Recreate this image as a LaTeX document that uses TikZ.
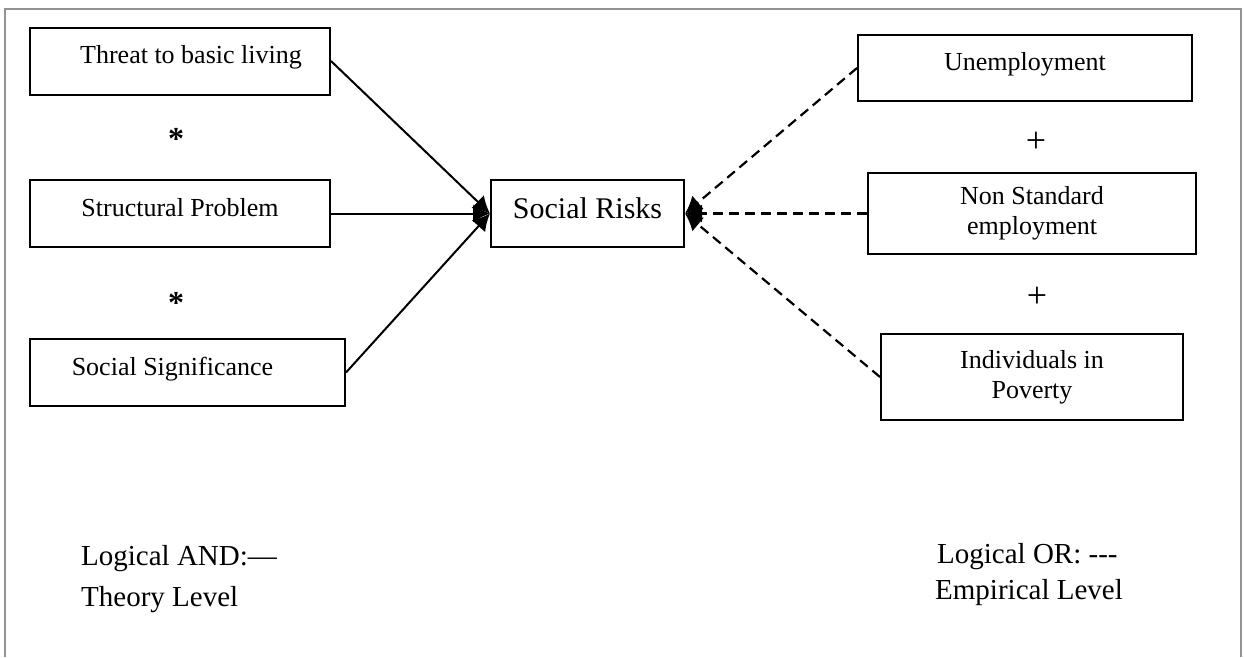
\documentclass[tikz,border=0pt]{standalone}
\usepackage{fontspec}
\setmainfont{Liberation Serif}
\usetikzlibrary{arrows.meta}
\tikzset{
  box/.style={draw, line width=2pt, align=center, inner sep=0pt, font=\fontsize{26}{30}\selectfont},
  onebox/.style={box, text height=18pt, text depth=13pt},
  tip/.style={-{Latex[length=17pt,width=18pt]}},
  andline/.style={line width=2pt, tip},
  orline/.style={line width=2.2pt, dash pattern=on 10pt off 6pt, tip},
  sym/.style={inner sep=0pt},
  legend/.style={anchor=base west, inner sep=0pt, font=\fontsize{29}{34}\selectfont},
}
\begin{document}
\begin{tikzpicture}[x=1pt,y=-1pt]
\useasboundingbox (0,0) rectangle (1245,657);
\draw[line width=2pt, color=gray!85] (5,657) -- (5,9) -- (1241,9) -- (1241,657);
% left boxes
\node[onebox, minimum width=300, minimum height=67] (threat) at (180,61) {\hspace*{22pt}Threat to basic living};
\node[onebox, minimum width=300, minimum height=67] (struct) at (180,213.5) {Structural Problem};
\node[onebox, minimum width=315, minimum height=67] (signif) at (187.5,372.5) {\hspace*{-30pt}Social Significance};
\node[sym, font=\fontsize{32}{32}\selectfont\bfseries] (star1) at (176,139) {*};
\node[sym, font=\fontsize{32}{32}\selectfont\bfseries] (star2) at (176,303) {*};
% center
\node[box, text height=21pt, text depth=12pt, minimum width=193, minimum height=67, font=\fontsize{30}{36}\selectfont] (risks) at (587.5,213.5) {Social Risks};
% right boxes
\node[onebox, minimum width=334, minimum height=66] (unemp) at (1025,68) {Unemployment};
\node[box, minimum width=328, minimum height=81] (nonstd) at (1032,213.5) {Non Standard\\employment};
\node[box, minimum width=302, minimum height=86] (indiv) at (1032,377) {Individuals in\\Poverty};
\node[sym, font=\fontsize{36}{36}\selectfont] (plus1) at (1036,142) {+};
\node[sym, font=\fontsize{36}{36}\selectfont] (plus2) at (1037,297) {+};
% connectors
\draw[andline] (threat.east) -- (risks.west);
\draw[andline] (struct.east) -- (risks.west);
\draw[andline] (signif.east) -- (risks.west);
\draw[orline] (unemp.west) -- (risks.east);
\draw[orline] (nonstd.west) -- (risks.east);
\draw[orline] (indiv.west) -- (risks.east);
% legend
\node[legend] (and) at (81,565) {Logical AND:—};
\node[legend] (theory) at (81,606) {Theory Level};
\node[legend] (or) at (937,563) {Logical OR: {-}{-}{-}};
\node[legend] (emp) at (935,599) {Empirical Level};
\end{tikzpicture}
\end{document}
